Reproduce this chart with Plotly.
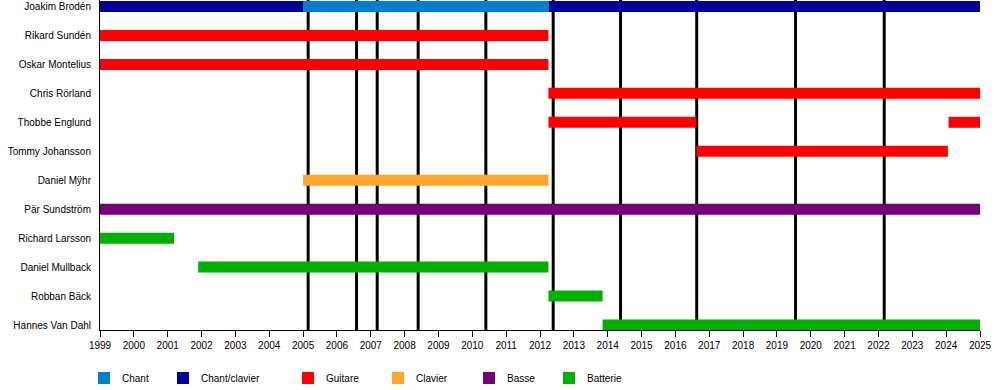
import plotly.graph_objects as go

members = ["Joakim Brodén", "Rikard Sundén", "Oskar Montelius", "Chris Rörland",
           "Thobbe Englund", "Tommy Johansson", "Daniel Mÿhr", "Pär Sundström",
           "Richard Larsson", "Daniel Mullback", "Robban Bäck", "Hannes Van Dahl"]

roles = ["Chant", "Chant/clavier", "Guitare", "Clavier", "Basse", "Batterie"]
role_colors = ["#0080cc", "#000099", "#ff0000", "#ffa52a", "#730078", "#00b000"]

bar_member = ["Joakim Brodén", "Joakim Brodén", "Joakim Brodén",
              "Rikard Sundén", "Oskar Montelius", "Chris Rörland",
              "Thobbe Englund", "Thobbe Englund", "Tommy Johansson",
              "Daniel Mÿhr", "Pär Sundström",
              "Richard Larsson", "Daniel Mullback", "Robban Bäck", "Hannes Van Dahl"]
bar_role = ["Chant/clavier", "Chant", "Chant/clavier",
            "Guitare", "Guitare", "Guitare",
            "Guitare", "Guitare", "Guitare",
            "Clavier", "Basse",
            "Batterie", "Batterie", "Batterie", "Batterie"]
bar_start = [1999.0, 2005.0, 2012.25,
             1999.0, 1999.0, 2012.25,
             2012.25, 2024.07, 2016.62,
             2005.0, 1999.0,
             1999.0, 2001.9, 2012.25, 2013.85]
bar_end = [2005.0, 2012.25, 2025.0,
           2012.25, 2012.25, 2025.0,
           2016.62, 2025.0, 2024.05,
           2012.25, 2025.0,
           2001.19, 2012.25, 2013.85, 2025.0]

album_years = [2005.15, 2006.58, 2007.19, 2008.40, 2010.40,
               2012.39, 2014.38, 2016.63, 2019.55, 2022.17]

year_ticks = list(range(1999, 2026))

# layout geometry (pixels)
W, H = 1000, 390
ML, MR, MT, MB = 100, 20, 0, 60
PW, PH = W - ML - MR, H - MT - MB

def px_x(p):
    return (p - ML) / PW

def px_y(p):
    return (H - MB - p) / PH

fig = go.Figure()

for role, color in zip(roles, role_colors):
    idx = [i for i, r in enumerate(bar_role) if r == role]
    fig.add_trace(go.Bar(
        orientation="h",
        y=[members.index(bar_member[i]) for i in idx],
        base=[bar_start[i] for i in idx],
        x=[bar_end[i] - bar_start[i] for i in idx],
        width=0.38,
        marker=dict(color=color, line=dict(width=0)),
        name=role,
        showlegend=False,
        hoverinfo="skip",
    ))

shapes = []
for yr in album_years:
    shapes.append(dict(type="line", xref="x", yref="paper", x0=yr, x1=yr, y0=0, y1=1,
                       line=dict(color="black", width=3), layer="below"))

# custom legend (matches reference spacing)
legend_sq_x = [98, 177, 302, 392, 483, 563]
legend_tx_x = [120, 199, 324, 414, 505, 585]
annotations = []
for role, color, sx, tx in zip(roles, role_colors, legend_sq_x, legend_tx_x):
    shapes.append(dict(type="rect", xref="paper", yref="paper",
                       x0=px_x(sx), x1=px_x(sx + 12), y0=px_y(384), y1=px_y(372),
                       fillcolor=color, line=dict(width=0)))
    annotations.append(dict(xref="paper", yref="paper", x=px_x(tx), y=px_y(378),
                            text=role, showarrow=False, xanchor="left", yanchor="middle",
                            font=dict(size=10, color="black")))

fig.update_layout(
    width=W, height=H,
    margin=dict(l=ML, r=MR, t=MT, b=MB, autoexpand=False),
    paper_bgcolor="white", plot_bgcolor="white",
    barmode="overlay",
    font=dict(family="Liberation Sans, Arial, sans-serif", size=10, color="black"),
    shapes=shapes,
    annotations=annotations,
    showlegend=False,
    xaxis=dict(range=[1999, 2025], tickvals=year_ticks, ticktext=[str(y) for y in year_ticks],
               showgrid=False, zeroline=False, showline=True, linecolor="black", linewidth=1,
               ticks="outside", ticklen=6, tickcolor="black", tickwidth=1,
               tickfont=dict(size=10, color="black")),
    yaxis=dict(range=[11 + 5 / 28.95, -6.5 / 28.95],
               tickvals=list(range(len(members))), ticktext=members,
               showgrid=False, zeroline=False, showline=True, linecolor="black", linewidth=1,
               ticks="", ticklabelstandoff=6,
               tickfont=dict(size=10, color="black")),
)

fig.write_html("out.html",
               config={"displayModeBar": False, "staticPlot": True},
               post_script="document.body.style.margin='0';document.body.style.padding='0';")
